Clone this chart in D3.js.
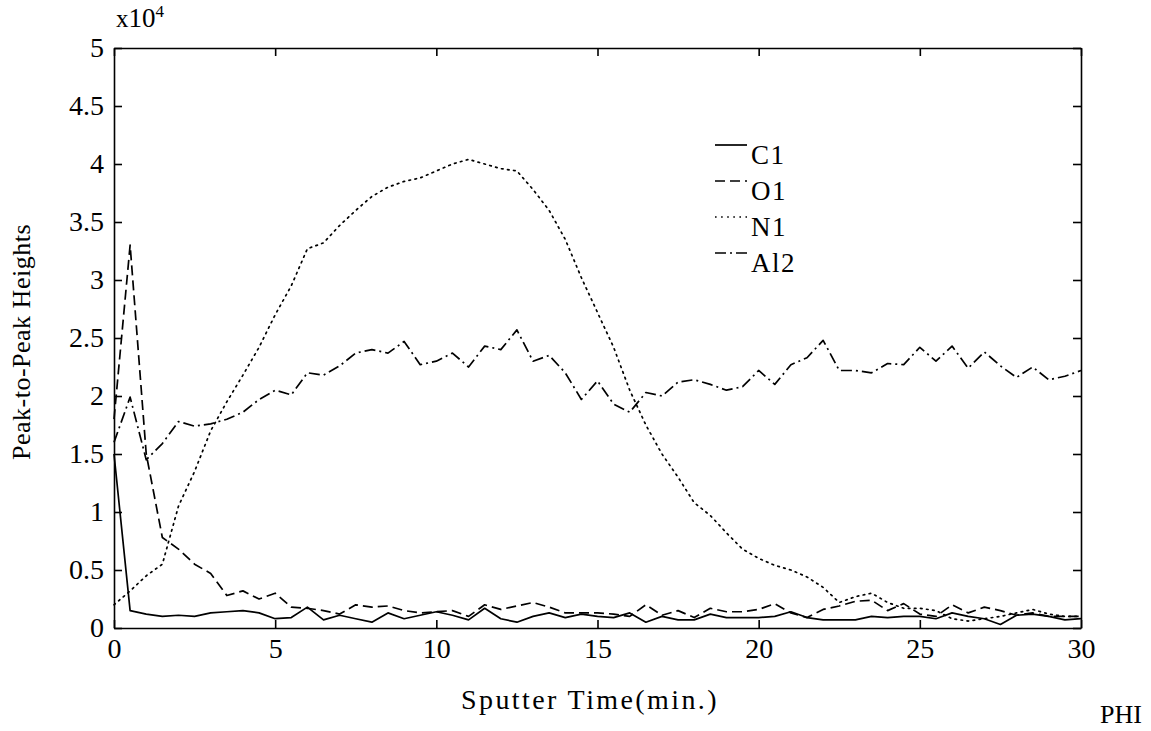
<!DOCTYPE html>
<html>
<head>
<meta charset="utf-8">
<script src="https://cdn.jsdelivr.net/npm/d3@7"></script>
<style>
    body { margin: 0; background: #fff; }
    svg text { font-family: "Liberation Serif", "Times New Roman", Times, "DejaVu Serif", serif; fill: #000; }
    .axis path, .axis line { stroke: #000; stroke-width: 1.6; }
    .axis text { font-size: 28px; }
    .series { fill: none; stroke: #000; stroke-width: 1.7; stroke-linejoin: round; }
</style>
</head>
<body>
<svg id="vis_svg" width="1151" height="731"></svg>
<script>
// time axis, one reading every half minute
let times = d3.range(0, 30.01, 0.5);

// values in units of 10^4
let c1 = [1.5, 0.15, 0.12, 0.1, 0.11, 0.1, 0.13, 0.14, 0.15, 0.13,
    0.08, 0.09, 0.18, 0.07, 0.11, 0.08, 0.05, 0.13, 0.08, 0.11,
    0.14, 0.11, 0.07, 0.17, 0.08, 0.05, 0.1, 0.13, 0.09, 0.12,
    0.1, 0.09, 0.13, 0.05, 0.1, 0.07, 0.07, 0.12, 0.09, 0.09,
    0.09, 0.1, 0.14, 0.09, 0.07, 0.07, 0.07, 0.1, 0.09, 0.1,
    0.1, 0.08, 0.13, 0.1, 0.08, 0.03, 0.11, 0.12, 0.1, 0.07, 0.08];

let o1 = [1.8, 3.3, 1.5, 0.78, 0.68, 0.55, 0.47, 0.28, 0.32, 0.25,
    0.3, 0.18, 0.17, 0.15, 0.12, 0.2, 0.18, 0.19, 0.15, 0.13,
    0.14, 0.15, 0.1, 0.2, 0.16, 0.19, 0.22, 0.18, 0.13, 0.13,
    0.13, 0.12, 0.1, 0.2, 0.11, 0.15, 0.09, 0.17, 0.14, 0.14,
    0.16, 0.21, 0.13, 0.09, 0.16, 0.19, 0.23, 0.24, 0.15, 0.21,
    0.12, 0.1, 0.2, 0.13, 0.18, 0.15, 0.11, 0.13, 0.1, 0.1, 0.1];

let n1 = [0.2, 0.32, 0.45, 0.55, 1.05, 1.35, 1.7, 1.95, 2.18, 2.42,
    2.7, 2.95, 3.27, 3.32, 3.47, 3.6, 3.72, 3.8, 3.85, 3.88,
    3.94, 4.0, 4.04, 4.0, 3.96, 3.94, 3.78, 3.6, 3.35, 3.02,
    2.72, 2.42, 2.05, 1.75, 1.5, 1.3, 1.08, 0.97, 0.82, 0.68,
    0.6, 0.54, 0.5, 0.44, 0.35, 0.22, 0.27, 0.3, 0.22, 0.17,
    0.17, 0.15, 0.08, 0.06, 0.08, 0.1, 0.13, 0.16, 0.12, 0.1, 0.1];

let al2 = [1.6, 1.99, 1.45, 1.59, 1.78, 1.74, 1.76, 1.8, 1.86, 1.97,
    2.05, 2.01, 2.2, 2.18, 2.26, 2.37, 2.4, 2.37, 2.47, 2.27,
    2.3, 2.37, 2.25, 2.43, 2.4, 2.57, 2.3, 2.35, 2.2, 1.97,
    2.13, 1.93, 1.86, 2.03, 2.0, 2.12, 2.14, 2.1, 2.05, 2.08,
    2.22, 2.1, 2.27, 2.33, 2.48, 2.22, 2.22, 2.2, 2.28, 2.27,
    2.42, 2.3, 2.43, 2.24, 2.38, 2.26, 2.16, 2.25, 2.14, 2.17, 2.22];

let seriesNames = ['C1', 'O1', 'N1', 'Al2'];
let seriesDash = ['none', '10,5', '1.6,4.5', '11,4,2,4'];

let xTicks = [0, 5, 10, 15, 20, 25, 30];
let yTicks = [0, 0.5, 1, 1.5, 2, 2.5, 3, 3.5, 4, 4.5, 5];

let svg;
let x;
let y;

/**
 * Set up scales, then draw the chart
 */
function drawVis() {
    svg = d3.select('svg#vis_svg');

    x = d3.scaleLinear().domain([0, 30]).range([114, 1081]);
    y = d3.scaleLinear().domain([0, 5]).range([628, 48]);

    drawAxes();

    let values = [c1, o1, n1, al2];
    let line = d3.line()
        .x(d => x(d[0]))
        .y(d => y(d[1]));

    let plot = svg.append('g').attr('id', 'plot');
    values.forEach(function(vals, i) {
        let pts = times.map((t, j) => [t, vals[j]]);
        plot.append('path')
            .datum(pts)
            .attr('class', 'series')
            .attr('d', line)
            .attr('stroke-dasharray', seriesDash[i])
            .attr('stroke-linecap', i == 2 ? 'round' : 'butt');
    });

    drawLegend();
    drawLabels();
}

/**
 * Box with inward ticks on all four sides, labels on left and bottom only
 */
function drawAxes() {
    let fmt = d3.format('~g');

    svg.append('g')
        .attr('class', 'axis')
        .attr('transform', translate(0, y(0)))
        .call(d3.axisBottom(x).tickValues(xTicks).tickSize(-8).tickSizeOuter(0)
            .tickPadding(10).tickFormat(fmt));

    svg.append('g')
        .attr('class', 'axis')
        .attr('transform', translate(x(0), 0))
        .call(d3.axisLeft(y).tickValues(yTicks).tickSize(-8).tickSizeOuter(0)
            .tickPadding(10).tickFormat(fmt));

    svg.append('g')
        .attr('class', 'axis')
        .attr('transform', translate(0, y(5)))
        .call(d3.axisTop(x).tickValues(xTicks).tickSize(-8).tickSizeOuter(0).tickFormat(''));

    svg.append('g')
        .attr('class', 'axis')
        .attr('transform', translate(x(30), 0))
        .call(d3.axisRight(y).tickValues(yTicks).tickSize(-8).tickSizeOuter(0).tickFormat(''));

    svg.selectAll('.axis').attr('font-family', null);
}

/**
 * Legend with line samples next to the names
 */
function drawLegend() {
    let legend = svg.append('g')
        .attr('id', 'legend')
        .attr('transform', translate(715, 145));

    seriesNames.forEach(function(name, i) {
        let row = legend.append('g').attr('transform', translate(0, i * 36));
        row.append('line')
            .attr('class', 'series')
            .attr('x1', 0).attr('x2', 32)
            .attr('y1', 0).attr('y2', 0)
            .attr('stroke-dasharray', seriesDash[i]);
        row.append('text')
            .attr('x', 36)
            .attr('y', 19)
            .attr('font-size', 27)
            .attr('letter-spacing', 1.5)
            .text(name);
    });
}

/**
 * Axis titles, exponent and the PHI mark
 */
function drawLabels() {
    let exp = svg.append('text')
        .attr('x', 116)
        .attr('y', 27);
    exp.append('tspan').attr('font-size', 25).text('x');
    exp.append('tspan').attr('font-size', 27).text('10');
    exp.append('tspan').attr('font-size', 17).attr('dy', -10).text('4');

    svg.append('text')
        .attr('transform', translate(30, 342) + ' rotate(-90)')
        .attr('text-anchor', 'middle')
        .attr('font-size', 26)
        .attr('letter-spacing', 0.5)
        .text('Peak-to-Peak Heights');

    svg.append('text')
        .attr('x', 590)
        .attr('y', 709)
        .attr('text-anchor', 'middle')
        .attr('font-size', 28)
        .attr('letter-spacing', 2.4)
        .text('Sputter Time(min.)');

    svg.append('text')
        .attr('x', 1100)
        .attr('y', 723)
        .attr('font-size', 26)
        .text('PHI');
}

function translate(x, y) {
    return 'translate(' + String(x) + ',' + String(y) + ')';
}

drawVis();
</script>
</body>
</html>
